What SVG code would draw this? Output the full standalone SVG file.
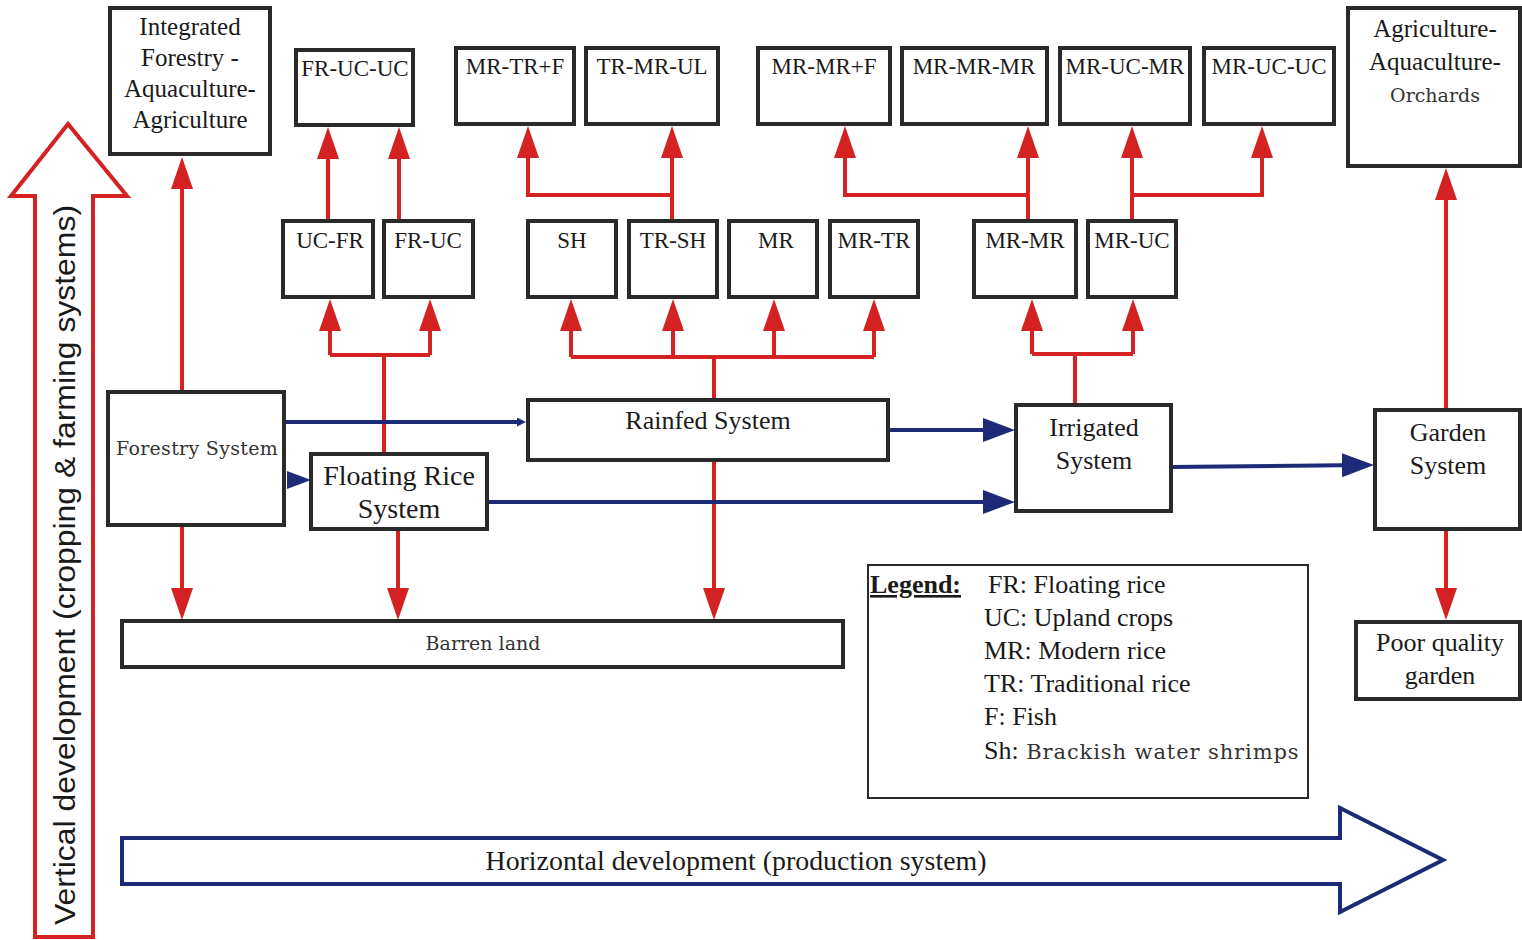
<svg xmlns="http://www.w3.org/2000/svg" width="1522" height="940" viewBox="0 0 1522 940">
<style>
.box{fill:#fff;stroke:#2a2a2a;stroke-width:4}
.leg{fill:#fff;stroke:#2a2a2a;stroke-width:2}
.t{font-family:"Liberation Serif","Times New Roman",serif;fill:#1a1a1a;text-anchor:middle}
.tl{font-family:"Liberation Serif","Times New Roman",serif;fill:#1a1a1a}
.lt{font-family:"DejaVu Serif","Liberation Serif",serif;fill:#333;text-anchor:middle}
.r{fill:none;stroke:#d42121;stroke-width:4}
.b{fill:none;stroke:#1c2a78;stroke-width:4}
</style>
<defs>
<marker id="rh" markerUnits="userSpaceOnUse" markerWidth="32" markerHeight="22" viewBox="0 0 32 22" refX="22" refY="11" orient="auto"><path d="M0,0 L32,11 L0,22 z" fill="#d42121"/></marker>
<marker id="bh" markerUnits="userSpaceOnUse" markerWidth="32" markerHeight="24" viewBox="0 0 32 24" refX="22" refY="12" orient="auto"><path d="M0,0 L32,12 L0,24 z" fill="#1c2a78"/></marker>
<marker id="bs" markerUnits="userSpaceOnUse" markerWidth="9" markerHeight="9" viewBox="0 0 9 9" refX="5" refY="4.5" orient="auto"><path d="M0,0 L9,4.5 L0,9 z" fill="#1c2a78"/></marker>
</defs>
<rect width="1522" height="940" fill="#fff"/>

<g id="vertical-development">
<polygon points="35,937 35,196 11,196 68,124 127,196 93,196 93,937" fill="#fff" stroke="#d42121" stroke-width="4"/>
<text transform="translate(75,565) rotate(-90)" font-family="Liberation Sans,Arial,sans-serif" font-size="30" fill="#1a1a1a" text-anchor="middle" textLength="720" lengthAdjust="spacingAndGlyphs">Vertical development (cropping &amp; farming systems)</text>
</g>

<g id="horizontal-development">
<polygon points="122,838 1340,838 1340,808 1443,860 1340,912 1340,884 122,884" fill="#fff" stroke="#1c2a78" stroke-width="4"/>
<text class="t" x="736" y="870" font-size="27" textLength="501" lengthAdjust="spacingAndGlyphs">Horizontal development (production system)</text>
</g>

<g id="connectors">
<path class="r" d="M182,392 V167" marker-end="url(#rh)"/>
<path class="r" d="M182,525 V610" marker-end="url(#rh)"/>
<path class="r" d="M384,454 V355"/>
<path class="r" d="M330,355 H430"/>
<path class="r" d="M330,355 V309" marker-end="url(#rh)"/>
<path class="r" d="M430,355 V309" marker-end="url(#rh)"/>
<path class="r" d="M328,221 V137" marker-end="url(#rh)"/>
<path class="r" d="M399,221 V137" marker-end="url(#rh)"/>
<path class="r" d="M398,529 V610" marker-end="url(#rh)"/>
<path class="r" d="M714,400 V357"/>
<path class="r" d="M571,357 H874"/>
<path class="r" d="M571,357 V309" marker-end="url(#rh)"/>
<path class="r" d="M673,357 V309" marker-end="url(#rh)"/>
<path class="r" d="M774,357 V309" marker-end="url(#rh)"/>
<path class="r" d="M874,357 V309" marker-end="url(#rh)"/>
<path class="r" d="M714,460 V610" marker-end="url(#rh)"/>
<path class="r" d="M672,221 V136" marker-end="url(#rh)"/>
<path class="r" d="M672,195 H528 V136" marker-end="url(#rh)"/>
<path class="r" d="M1075,405 V354"/>
<path class="r" d="M1032,354 H1133"/>
<path class="r" d="M1032,354 V309" marker-end="url(#rh)"/>
<path class="r" d="M1133,354 V309" marker-end="url(#rh)"/>
<path class="r" d="M1028,221 V136" marker-end="url(#rh)"/>
<path class="r" d="M1028,195 H845 V136" marker-end="url(#rh)"/>
<path class="r" d="M1132,221 V136" marker-end="url(#rh)"/>
<path class="r" d="M1132,195 H1262 V136" marker-end="url(#rh)"/>
<path class="r" d="M1446,410 V178" marker-end="url(#rh)"/>
<path class="r" d="M1446,529 V610" marker-end="url(#rh)"/>
<path class="b" d="M284,422 H522" marker-end="url(#bs)"/>
<polygon points="287,471 311,480 287,489" fill="#1c2a78"/>
<path class="b" d="M888,430 H1005" marker-end="url(#bh)"/>
<path class="b" d="M487,502 H1005" marker-end="url(#bh)"/>
<path class="b" d="M1171,467 L1364,465" marker-end="url(#bh)"/>
</g>

<g id="integrated-forestry">
<rect class="box" x="110" y="8" width="160" height="146"/>
<text class="t" font-size="25"><tspan x="190" y="35">Integrated</tspan><tspan x="190" y="66">Forestry -</tspan><tspan x="190" y="97">Aquaculture-</tspan><tspan x="190" y="128">Agriculture</tspan></text>
</g>
<g id="fr-uc-uc"><rect class="box" x="296" y="50" width="117" height="75"/><text class="t" x="355" y="76" font-size="23">FR-UC-UC</text></g>
<g id="mr-tr-f"><rect class="box" x="456" y="48" width="118" height="76"/><text class="t" x="515" y="74" font-size="23">MR-TR+F</text></g>
<g id="tr-mr-ul"><rect class="box" x="586" y="48" width="132" height="76"/><text class="t" x="652" y="74" font-size="23">TR-MR-UL</text></g>
<g id="mr-mr-f"><rect class="box" x="758" y="48" width="132" height="76"/><text class="t" x="824" y="74" font-size="23">MR-MR+F</text></g>
<g id="mr-mr-mr"><rect class="box" x="902" y="48" width="145" height="76"/><text class="t" x="974" y="74" font-size="23">MR-MR-MR</text></g>
<g id="mr-uc-mr"><rect class="box" x="1060" y="48" width="130" height="76"/><text class="t" x="1125" y="74" font-size="23">MR-UC-MR</text></g>
<g id="mr-uc-uc"><rect class="box" x="1204" y="48" width="130" height="76"/><text class="t" x="1269" y="74" font-size="23">MR-UC-UC</text></g>
<g id="agri-aqua-orchards">
<rect class="box" x="1348" y="8" width="172" height="158"/>
<text class="t" font-size="25"><tspan x="1435" y="37">Agriculture-</tspan><tspan x="1435" y="70">Aquaculture-</tspan></text>
<text class="lt" x="1435" y="102" font-size="19">Orchards</text>
</g>
<g id="uc-fr"><rect class="box" x="283" y="221" width="90" height="76"/><text class="t" x="330" y="248" font-size="23">UC-FR</text></g>
<g id="fr-uc"><rect class="box" x="384" y="221" width="89" height="76"/><text class="t" x="428" y="248" font-size="23">FR-UC</text></g>
<g id="sh"><rect class="box" x="528" y="221" width="88" height="76"/><text class="t" x="572" y="248" font-size="23">SH</text></g>
<g id="tr-sh"><rect class="box" x="629" y="221" width="88" height="76"/><text class="t" x="673" y="248" font-size="23">TR-SH</text></g>
<g id="mr"><rect class="box" x="729" y="221" width="88" height="76"/><text class="t" x="776" y="248" font-size="23">MR</text></g>
<g id="mr-tr"><rect class="box" x="830" y="221" width="88" height="76"/><text class="t" x="874" y="248" font-size="23">MR-TR</text></g>
<g id="mr-mr"><rect class="box" x="974" y="221" width="102" height="76"/><text class="t" x="1025" y="248" font-size="23">MR-MR</text></g>
<g id="mr-uc"><rect class="box" x="1088" y="221" width="88" height="76"/><text class="t" x="1132" y="248" font-size="23">MR-UC</text></g>

<g id="forestry-system"><rect class="box" x="108" y="392" width="176" height="133"/><text class="lt" x="197" y="455" font-size="19" letter-spacing="0.3">Forestry System</text></g>
<g id="rainfed-system"><rect class="box" x="528" y="400" width="360" height="60"/><text class="t" x="708" y="429" font-size="26">Rainfed System</text></g>
<g id="floating-rice-system"><rect class="box" x="311" y="454" width="176" height="75"/><text class="t" font-size="28"><tspan x="399" y="485">Floating Rice</tspan><tspan x="399" y="518">System</tspan></text></g>
<g id="irrigated-system"><rect class="box" x="1016" y="405" width="155" height="106"/><text class="t" font-size="26"><tspan x="1094" y="436">Irrigated</tspan><tspan x="1094" y="469">System</tspan></text></g>
<g id="garden-system"><rect class="box" x="1375" y="410" width="145" height="119"/><text class="t" font-size="26"><tspan x="1448" y="441">Garden</tspan><tspan x="1448" y="474">System</tspan></text></g>
<g id="barren-land"><rect class="box" x="122" y="621" width="721" height="46"/><text class="lt" x="483" y="650" font-size="19">Barren land</text></g>
<g id="poor-quality-garden"><rect class="box" x="1356" y="622" width="164" height="77"/><text class="t" font-size="26"><tspan x="1440" y="651">Poor quality</tspan><tspan x="1440" y="684">garden</tspan></text></g>

<g id="legend">
<rect class="leg" x="868" y="565" width="440" height="233"/>
<text class="tl" x="870" y="593" font-size="26" font-weight="bold" text-decoration="underline">Legend:</text>
<text class="tl" font-size="26">
<tspan x="988" y="593">FR: Floating rice</tspan>
<tspan x="984" y="626">UC: Upland crops</tspan>
<tspan x="984" y="659">MR: Modern rice</tspan>
<tspan x="984" y="692">TR: Traditional rice</tspan>
<tspan x="984" y="725">F: Fish</tspan>
</text>
<text class="tl" x="984" y="759" font-size="26">Sh:<tspan font-family="DejaVu Serif,Liberation Serif,serif" font-size="21" letter-spacing="0.9" fill="#333"> Brackish water shrimps</tspan></text>
</g>
</svg>
